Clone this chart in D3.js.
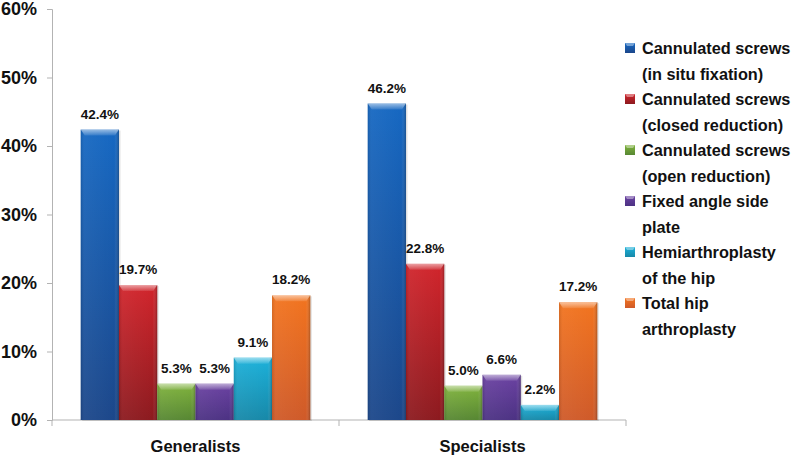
<!DOCTYPE html>
<html>
<head>
<meta charset="utf-8">
<script src="https://cdn.jsdelivr.net/npm/d3@7"></script>
<style>
  body { margin: 0; background: #fff; }
  svg { display: block; font-family: "Liberation Sans", Arial, sans-serif; }
  .axis path, .axis line { stroke: #b3b3b3; }
</style>
</head>
<body>
<svg id="chart" width="800" height="459"></svg>
<script>
// Daten
const groups = ['Generalists', 'Specialists'];
const series = ['insitu', 'closed', 'open', 'plate', 'hemi', 'total'];
const legendLines = [
    ['Cannulated screws', '(in situ fixation)'],
    ['Cannulated screws', '(closed reduction)'],
    ['Cannulated screws', '(open reduction)'],
    ['Fixed angle side', 'plate'],
    ['Hemiarthroplasty', 'of the hip'],
    ['Total hip', 'arthroplasty']
];
const generalists = [42.4, 19.7, 5.3, 5.3, 9.1, 18.2];
const specialists = [46.2, 22.8, 5.0, 6.6, 2.2, 17.2];
const yTicks = [0, 10, 20, 30, 40, 50, 60];

// Farben: oben hell, unten dunkel
const topColors = ['#1668c2', '#d1252c', '#80b33d', '#6b42a2', '#1cb1da', '#f2741f'];
const bottomColors = ['#1c478a', '#8c1a1f', '#578733', '#4c3283', '#1788a8', '#cf5a29'];

const values = { Generalists: generalists, Specialists: specialists };

const svg = d3.select('#chart');
const defs = svg.append('defs');

series.forEach((s, i) => {
    const grad = defs.append('linearGradient')
        .attr('id', `grad-${s}`)
        .attr('x1', 0).attr('y1', 0).attr('x2', 0).attr('y2', 1);
    grad.append('stop').attr('offset', '0%').attr('stop-color', topColors[i]);
    grad.append('stop').attr('offset', '100%').attr('stop-color', bottomColors[i]);

    const side = defs.append('linearGradient')
        .attr('id', `side-${s}`)
        .attr('x1', 0).attr('y1', 0).attr('x2', 1).attr('y2', 0);
    side.append('stop').attr('offset', '0%').attr('stop-color', '#000').attr('stop-opacity', 0.12);
    side.append('stop').attr('offset', '10%').attr('stop-color', '#fff').attr('stop-opacity', 0.05);
    side.append('stop').attr('offset', '88%').attr('stop-color', '#fff').attr('stop-opacity', 0);
    side.append('stop').attr('offset', '100%').attr('stop-color', '#000').attr('stop-opacity', 0.25);
});

const bevel = defs.append('linearGradient')
    .attr('id', 'bevel')
    .attr('x1', 0).attr('y1', 0).attr('x2', 0).attr('y2', 1);
bevel.append('stop').attr('offset', '0%').attr('stop-color', '#fff').attr('stop-opacity', 0.55);
bevel.append('stop').attr('offset', '100%').attr('stop-color', '#fff').attr('stop-opacity', 0.1);

// Skalen
const x0 = d3.scaleBand().domain(groups).range([52, 626]);
const x1 = d3.scaleBand().domain(series).range([0, x0.bandwidth()]).paddingOuter(0.75);
const y = d3.scaleLinear().domain([0, 60]).range([420, 9]);

// Achsen
const yAxis = svg.append('g')
    .attr('class', 'axis')
    .attr('transform', 'translate(52,0)')
    .call(d3.axisLeft(y).tickValues(yTicks).tickSize(5).tickFormat(d => d + '%'));
yAxis.selectAll('text')
    .attr('x', -15)
    .style('font-size', '18px')
    .style('font-weight', 'bold')
    .style('fill', '#111');

const xAxis = svg.append('g')
    .attr('class', 'axis')
    .attr('transform', 'translate(0,420)')
    .call(d3.axisBottom(x0).tickSize(0).tickFormat(''));
xAxis.select('.domain').remove();
xAxis.append('line')
    .attr('x1', 52).attr('x2', 626)
    .attr('stroke', '#b3b3b3');
[52, x0('Specialists'), 626].forEach(t => {
    xAxis.append('line')
        .attr('x1', t).attr('x2', t)
        .attr('y1', 0).attr('y2', 6)
        .attr('stroke', '#b3b3b3');
});

// Kategorie-Beschriftung
svg.append('g').selectAll('text')
    .data(groups)
    .enter()
    .append('text')
    .attr('x', d => x0(d) + x0.bandwidth() / 2)
    .attr('y', 452)
    .attr('text-anchor', 'middle')
    .style('font-size', '16.5px')
    .style('font-weight', 'bold')
    .style('fill', '#111')
    .text(d => d);

// Balken
groups.forEach(g => {
    const grp = svg.append('g').attr('transform', `translate(${x0(g)},0)`);
    values[g].forEach((v, i) => {
        const s = series[i];
        const bx = x1(s);
        const bw = x1.bandwidth();
        const by = y(v);
        const bh = y(0) - y(v);

        grp.append('rect')
            .attr('x', bx + 1.5).attr('y', by + 1)
            .attr('width', bw).attr('height', bh)
            .attr('fill', '#000').attr('opacity', 0.12);

        grp.append('rect')
            .attr('x', bx).attr('y', by)
            .attr('width', bw).attr('height', bh)
            .attr('fill', `url(#grad-${s})`);

        grp.append('rect')
            .attr('x', bx).attr('y', by)
            .attr('width', bw).attr('height', bh)
            .attr('fill', `url(#side-${s})`);

        // Bevel oben
        const bv = Math.min(6, bh / 2);
        grp.append('path')
            .attr('d', `M${bx},${by} L${bx + bw},${by} L${bx + bw - 4},${by + bv} L${bx + 4},${by + bv} Z`)
            .attr('fill', 'url(#bevel)');

        grp.append('text')
            .attr('x', bx + bw / 2)
            .attr('y', by - 11)
            .attr('text-anchor', 'middle')
            .style('font-size', '13.5px')
            .style('font-weight', 'bold')
            .style('fill', '#111')
            .text(v.toFixed(1) + '%');
    });
});

// Legende
const legend = svg.append('g').attr('transform', 'translate(625,48)');
series.forEach((s, i) => {
    const item = legend.append('g').attr('transform', `translate(0,${i * 51})`);
    item.append('rect')
        .attr('x', 0).attr('y', -5)
        .attr('width', 10).attr('height', 10)
        .attr('fill', `url(#grad-${s})`);
    item.append('path')
        .attr('d', 'M0,-5 L10,-5 L8,-2 L2,-2 Z')
        .attr('fill', '#fff').attr('opacity', 0.4);
    legendLines[i].forEach((t, j) => {
        item.append('text')
            .attr('x', 17)
            .attr('y', j * 26.5)
            .attr('dy', '0.35em')
            .style('font-size', '16.3px')
            .style('font-weight', 'bold')
            .style('fill', '#111')
            .text(t);
    });
});
</script>
</body>
</html>
